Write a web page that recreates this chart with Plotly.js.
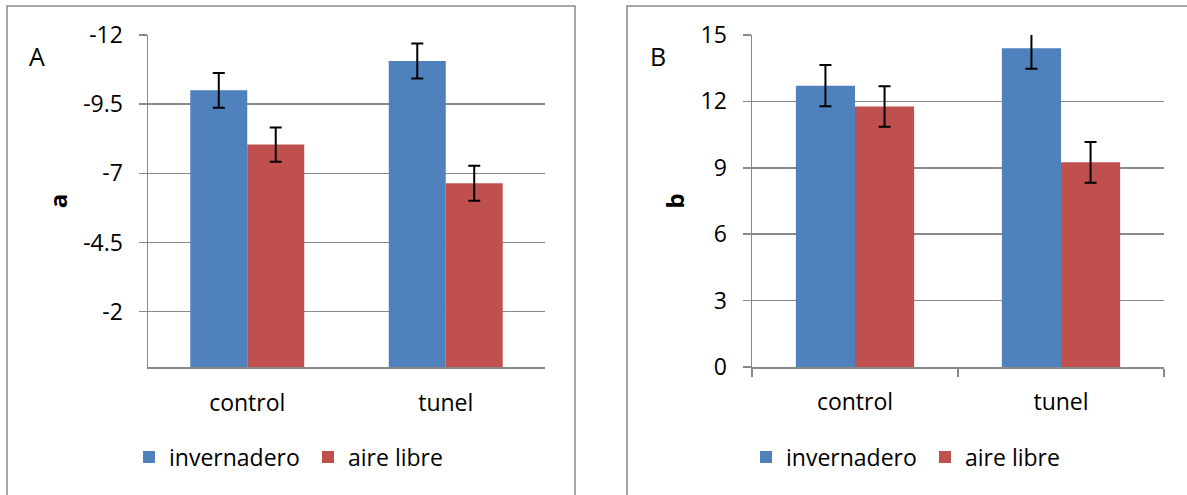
<!DOCTYPE html>
<html>
<head>
<meta charset="utf-8">
<script src="https://cdn.plot.ly/plotly-3.0.1.min.js"></script>
<style>html,body{margin:0;padding:0;background:#fff;}#chart{width:1187px;height:495px;}</style>
</head>
<body>
<div id="chart"></div>
<script>
// ---- data ----
const categories = ['control', 'tunel'];
const seriesNames = ['invernadero', 'aire libre'];
const aInvernadero = [-10.0, -11.06];
const aInvernaderoErr = [0.63, 0.63];
const aAireLibre = [-8.04, -6.64];
const aAireLibreErr = [0.62, 0.63];
const bInvernadero = [12.71, 14.40];
const bInvernaderoErr = [0.93, 0.92];
const bAireLibre = [11.77, 9.25];
const bAireLibreErr = [0.92, 0.92];
const aTickVals = [-12, -9.5, -7, -4.5, -2];
const aTickText = ['-12', '-9.5', '-7', '-4.5', '-2'];
const bTickVals = [0, 3, 6, 9, 12, 15];

// ---- style ----
const W = 1187, H = 495;
const BLUE = '#4F81BD', RED = '#C0504D', GRAY = '#898989';
const FONT = 'Open Sans, Lato, sans-serif';
const px = v => v / W;
const py = v => 1 - v / H;

function errBar(arr) {
  return {type: 'data', array: arr, visible: true, color: '#000', thickness: 2, width: 6};
}

const traces = [
  {type: 'bar', x: categories, y: aInvernadero, name: seriesNames[0], marker: {color: BLUE},
   error_y: errBar(aInvernaderoErr), xaxis: 'x', yaxis: 'y', legend: 'legend'},
  {type: 'bar', x: categories, y: aAireLibre, name: seriesNames[1], marker: {color: RED},
   error_y: errBar(aAireLibreErr), xaxis: 'x', yaxis: 'y', legend: 'legend'},
  {type: 'bar', x: categories, y: bInvernadero, name: seriesNames[0], marker: {color: BLUE},
   error_y: errBar(bInvernaderoErr), xaxis: 'x2', yaxis: 'y2', legend: 'legend2'},
  {type: 'bar', x: categories, y: bAireLibre, name: seriesNames[1], marker: {color: RED},
   error_y: errBar(bAireLibreErr), xaxis: 'x2', yaxis: 'y2', legend: 'legend2'}
];

const yDomain = [py(367), py(35)];
const tickFont = {family: FONT, size: 23, color: '#000'};

const commonY = {
  domain: yDomain, showline: true, linecolor: GRAY, linewidth: 1.5,
  ticks: 'outside', ticklen: 8, tickcolor: GRAY, tickwidth: 1.5,
  showgrid: true, gridcolor: GRAY, gridwidth: 1.5, zeroline: false,
  tickfont: tickFont, ticklabelstandoff: 11, fixedrange: true
};
const commonX = {
  showline: true, linecolor: GRAY, linewidth: 1.5, showgrid: false, zeroline: false,
  tickfont: tickFont, fixedrange: true, ticklabelstandoff: 14
};

const legendCommon = {
  orientation: 'h', font: {family: FONT, size: 23, color: '#000'},
  yanchor: 'middle', y: py(457), xanchor: 'left', bgcolor: 'rgba(0,0,0,0)',
  entrywidth: 134, entrywidthmode: 'pixels', tracegroupgap: 0
};

const layout = {
  width: W, height: H,
  margin: {l: 0, r: 0, t: 0, b: 0},
  paper_bgcolor: '#fff', plot_bgcolor: '#fff',
  font: {family: FONT, color: '#000'},
  barmode: 'group', bargap: 0.426, bargroupgap: 0,
  showlegend: true,
  legend: Object.assign({}, legendCommon, {x: px(129)}),
  legend2: Object.assign({}, legendCommon, {x: px(746)}),
  xaxis: Object.assign({}, commonX, {domain: [px(148), px(545)], anchor: 'y', ticks: '', ticklabelstandoff: 15}),
  yaxis: Object.assign({}, commonY, {anchor: 'x', range: [0, -12], tickvals: aTickVals, ticktext: aTickText,
    title: {text: '<b>a</b>', font: {family: FONT, size: 24, color: '#000'}, standoff: 9}}),
  xaxis2: Object.assign({}, commonX, {domain: [px(752), px(1164)], anchor: 'y2', ticks: 'outside',
    tickson: 'boundaries', ticklen: 8, tickcolor: GRAY, tickwidth: 1.5}),
  yaxis2: Object.assign({}, commonY, {anchor: 'x2', range: [0, 15], tickvals: bTickVals,
    title: {text: '<b>b</b>', font: {family: FONT, size: 24, color: '#000'}, standoff: 9}}),
  annotations: [
    {text: 'A', xref: 'paper', yref: 'paper', x: px(37), y: py(56), showarrow: false,
     xanchor: 'center', yanchor: 'middle', font: {family: FONT, size: 25, color: '#000'}},
    {text: 'B', xref: 'paper', yref: 'paper', x: px(658), y: py(56), showarrow: false,
     xanchor: 'center', yanchor: 'middle', font: {family: FONT, size: 25, color: '#000'}}
  ],
  shapes: [
    {type: 'rect', xref: 'paper', yref: 'paper', x0: px(7), x1: px(575), y0: py(520), y1: py(6),
     line: {color: GRAY, width: 1.5}, fillcolor: 'rgba(0,0,0,0)', layer: 'below'},
    {type: 'rect', xref: 'paper', yref: 'paper', x0: px(627), x1: px(1210), y0: py(520), y1: py(6),
     line: {color: GRAY, width: 1.5}, fillcolor: 'rgba(0,0,0,0)', layer: 'below'}
  ]
};

Plotly.newPlot('chart', traces, layout, {displayModeBar: false, staticPlot: true});
</script>
</body>
</html>
